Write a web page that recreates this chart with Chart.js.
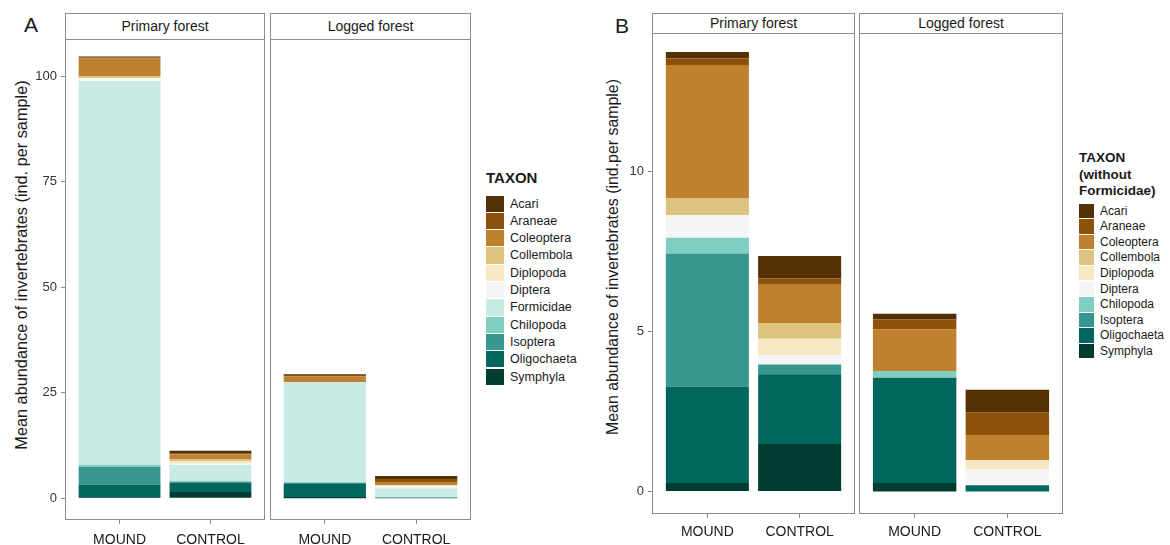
<!DOCTYPE html>
<html><head><meta charset="utf-8">
<script src="https://cdn.jsdelivr.net/npm/chart.js@4.4.1/dist/chart.umd.min.js"></script>
<style>
body{margin:0;background:#fff;width:1170px;height:545px;overflow:hidden;position:relative;font-family:"Liberation Sans",Arial,Helvetica,sans-serif;}
canvas{position:absolute;top:0;}
.strip{position:absolute;box-sizing:border-box;border:1px solid #8c8c8c;background:#fff;text-align:center;color:#1a1a1a;font-size:14px;}
.ytitle{position:absolute;white-space:nowrap;transform:translate(-50%,-50%) rotate(-90deg);color:#1a1a1a;}
.tag{position:absolute;font-size:21px;color:#1a1a1a;line-height:1;}
.lg{position:absolute;color:#1a1a1a;}
.lg .t{font-weight:bold;white-space:nowrap;}
.lg .k{position:absolute;}
.lg .n{position:absolute;white-space:nowrap;}
</style></head>
<body>
<div class="tag" style="left:24px;top:14px;">A</div>
<div class="tag" style="left:615px;top:15px;">B</div>

<div class="strip" style="left:65px;top:13px;width:200px;height:27px;line-height:25px;">Primary forest</div>
<div class="strip" style="left:270px;top:13px;width:201px;height:27px;line-height:25px;">Logged forest</div>
<div class="strip" style="left:652px;top:13px;width:203px;height:21px;line-height:19px;">Primary forest</div>
<div class="strip" style="left:859px;top:13px;width:204px;height:21px;line-height:19px;">Logged forest</div>

<div class="ytitle" style="left:21px;top:265px;font-size:16.3px;">Mean abundance of invertebrates (ind. per sample)</div>
<div class="ytitle" style="left:613px;top:257px;font-size:15.9px;">Mean abundance of invertebrates (ind.per sample)</div>

<canvas id="a1" width="266" height="545" style="left:0px;"></canvas>
<canvas id="a2" width="201" height="545" style="left:270px;"></canvas>
<canvas id="b1" width="256" height="545" style="left:600px;"></canvas>
<canvas id="b2" width="204" height="545" style="left:859px;"></canvas>

<div id="legA" class="lg" style="left:486px;top:0px;"></div>
<div id="legB" class="lg" style="left:1079px;top:0px;"></div>

<script>
// ---- data ----
const habitats = ['MOUND', 'CONTROL'];
const forests = ['Primary forest', 'Logged forest'];
const taxa = ['Acari','Araneae','Coleoptera','Collembola','Diplopoda','Diptera','Formicidae','Chilopoda','Isoptera','Oligochaeta','Symphyla'];
const taxonColors = ['#543005','#8c510a','#bf812d','#dfc27d','#f6e8c3','#f5f5f5','#c7eae5','#80cdc1','#35978f','#01665e','#003c30'];
// values per taxon: [Primary MOUND, Primary CONTROL, Logged MOUND, Logged CONTROL]
const acari       = [0.21, 0.70, 0.18, 0.70];
const araneae     = [0.20, 0.20, 0.31, 0.71];
const coleoptera  = [4.17, 1.19, 1.30, 0.79];
const collembola  = [0.52, 0.49, 0.00, 0.00];
const diplopoda   = [0.00, 0.51, 0.00, 0.29];
const diptera     = [0.71, 0.30, 0.00, 0.49];
const formicidae  = [90.9, 3.90, 23.8, 2.10];
const chilopoda   = [0.49, 0.00, 0.21, 0.00];
const isoptera    = [4.16, 0.30, 0.00, 0.00];
const oligochaeta = [3.01, 2.18, 3.29, 0.20];
const symphyla    = [0.27, 1.49, 0.27, 0.00];
const yTicksA = [0, 25, 50, 75, 100];
const yTicksB = [0, 5, 10];

const valuesByTaxon = {Acari:acari, Araneae:araneae, Coleoptera:coleoptera, Collembola:collembola,
  Diplopoda:diplopoda, Diptera:diptera, Formicidae:formicidae, Chilopoda:chilopoda,
  Isoptera:isoptera, Oligochaeta:oligochaeta, Symphyla:symphyla};

const FONT = '"Liberation Sans", Arial, Helvetica, sans-serif';
const GRAY = '#8c8c8c';

const framePlugin = {
  id: 'frame',
  afterDraw(chart) {
    const {ctx, chartArea: a} = chart;
    ctx.save();
    ctx.strokeStyle = GRAY; ctx.lineWidth = 1;
    const l = Math.round(a.left), t = Math.round(a.top), r = Math.round(a.right), b = Math.round(a.bottom);
    ctx.strokeRect(l + 0.5, t + 0.5, r - l - 1, b - t - 1);
    ctx.restore();
  }
};

function panel(id, o) {
  const list = taxa.filter(t => o.withFormicidae || t !== 'Formicidae').slice().reverse();
  const datasets = list.map(t => ({
    label: t,
    data: habitats.map((h, i) => ({x: i + 1, y: valuesByTaxon[t][o.forest * 2 + i]})),
    backgroundColor: taxonColors[taxa.indexOf(t)],
    borderWidth: 0,
    categoryPercentage: 0.9,
    barPercentage: 1.0
  }));
  new Chart(document.getElementById(id), {
    type: 'bar',
    data: {datasets},
    options: {
      responsive: false, animation: false, devicePixelRatio: 1,
      layout: {padding: {top: o.padTop, right: o.padRight, left: 0, bottom: 0}},
      plugins: {legend: {display: false}, tooltip: {enabled: false}},
      scales: {
        x: {
          type: 'linear', min: 0.4, max: 2.6, stacked: true, offset: false,
          afterBuildTicks: s => { s.ticks = habitats.map((h, i) => ({value: i + 1})); },
          afterFit: s => { s.height = o.xH; },
          ticks: {callback: v => habitats[v - 1], font: {size: 14, family: FONT}, color: '#1a1a1a',
                  padding: o.xPad, autoSkip: false, maxRotation: 0},
          grid: {display: true, offset: false, drawOnChartArea: false, drawTicks: true, tickLength: 4, color: GRAY},
          border: {display: false}
        },
        y: {
          display: o.showY, min: o.yMin, max: o.yMax, stacked: true,
          afterBuildTicks: s => { s.ticks = o.yTicks.map(v => ({value: v})); },
          afterFit: s => { s.width = o.yW; },
          ticks: {font: {size: 13, family: FONT}, color: '#333333', padding: 4},
          grid: {display: true, offset: false, drawOnChartArea: false, drawTicks: true, tickLength: 4, color: GRAY},
          border: {display: false}
        }
      }
    },
    plugins: [framePlugin]
  });
}

panel('a1', {forest: 0, withFormicidae: true, yMin: -5.15, yMax: 108.8, yTicks: yTicksA, showY: true, yW: 65, padTop: 39, padRight: 1, xH: 25, xPad: 8});
panel('a2', {forest: 1, withFormicidae: true, yMin: -5.15, yMax: 108.8, yTicks: yTicksA, showY: false, yW: 0, padTop: 39, padRight: 0, xH: 25, xPad: 8});
panel('b1', {forest: 0, withFormicidae: false, yMin: -0.70, yMax: 14.33, yTicks: yTicksB, showY: true, yW: 52, padTop: 33, padRight: 1, xH: 31, xPad: 5.5});
panel('b2', {forest: 1, withFormicidae: false, yMin: -0.70, yMax: 14.33, yTicks: yTicksB, showY: false, yW: 0, padTop: 33, padRight: 0, xH: 31, xPad: 5.5});

function legend(id, titleLines, titleSize, titleTop, titleLH, keyTop, step, keyW, keyH, textX, textSize, items) {
  const el = document.getElementById(id);
  const t = document.createElement('div');
  t.className = 't';
  t.style.cssText = `position:absolute;left:0;top:${titleTop}px;font-size:${titleSize}px;line-height:${titleLH}px;`;
  t.innerHTML = titleLines.join('<br>');
  el.appendChild(t);
  items.forEach((name, i) => {
    const k = document.createElement('div');
    k.className = 'k';
    k.style.cssText = `left:0;top:${keyTop + i * step}px;width:${keyW}px;height:${keyH}px;background:${taxonColors[taxa.indexOf(name)]};`;
    el.appendChild(k);
    const n = document.createElement('div');
    n.className = 'n';
    n.style.cssText = `left:${textX}px;top:${keyTop + i * step}px;height:${keyH}px;line-height:${keyH}px;font-size:${textSize}px;`;
    n.textContent = name;
    el.appendChild(n);
  });
}
legend('legA', ['TAXON'], 15, 169, 18, 195.5, 17.3, 18, 16.3, 24, 12.5, taxa);
legend('legB', ['TAXON', '(without', 'Formicidae)'], 13.5, 150, 16.5, 203.5, 15.6, 15, 14.6, 21, 12, taxa.filter(t => t !== 'Formicidae'));
</script>
</body></html>
